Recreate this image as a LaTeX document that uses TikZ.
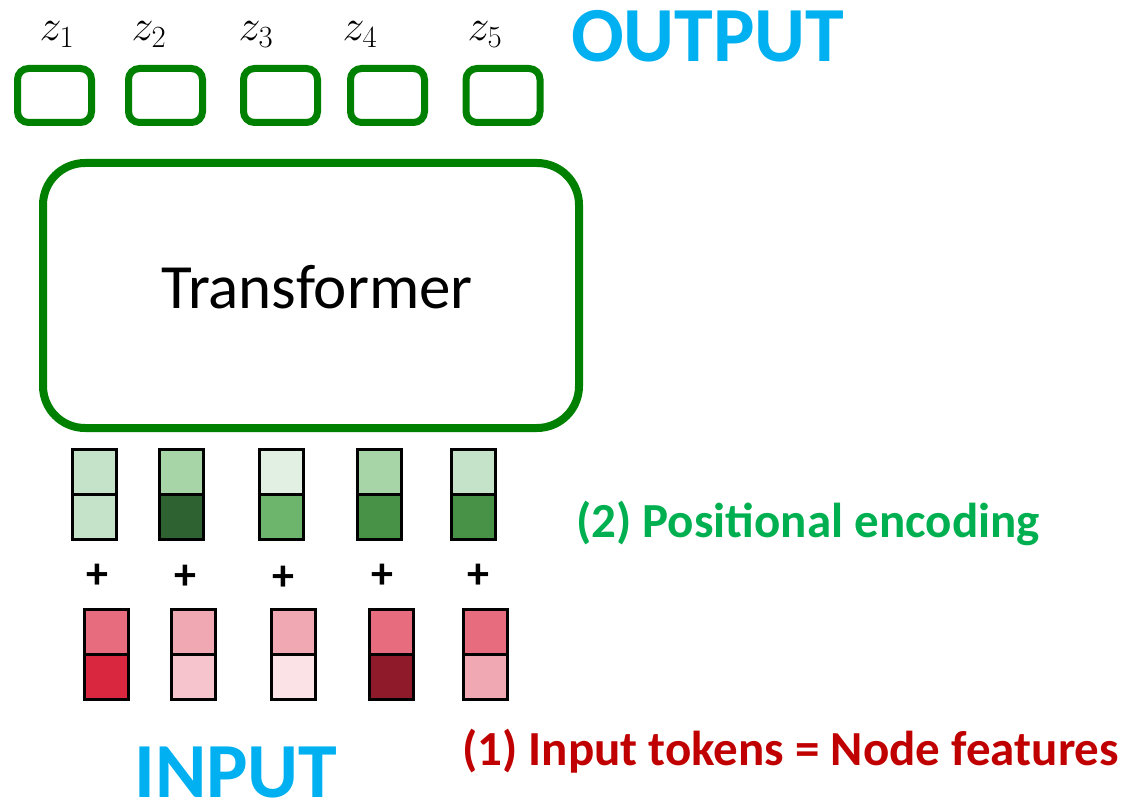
\RequirePackage{fix-cm}
\documentclass[tikz,border=0pt]{standalone}
\usepackage{fontspec}
\setmainfont{Carlito}
\definecolor{boxgreen}{RGB}{0,128,0}
\definecolor{cyanout}{RGB}{0,176,240}
\definecolor{posgreen}{RGB}{0,176,80}
\definecolor{tokred}{RGB}{192,0,0}
\definecolor{gA}{HTML}{C5E3C8}
\definecolor{gB}{HTML}{A8D5A8}
\definecolor{gC}{HTML}{2E6331}
\definecolor{gD}{HTML}{E1F0E2}
\definecolor{gE}{HTML}{6DB56D}
\definecolor{gF}{HTML}{489247}
\definecolor{rA}{HTML}{E66C7E}
\definecolor{rB}{HTML}{D9273F}
\definecolor{rC}{HTML}{F0A8B2}
\definecolor{rD}{HTML}{F5C4CC}
\definecolor{rE}{HTML}{FAE2E6}
\definecolor{rF}{HTML}{8F1A2A}
\begin{document}
\begin{tikzpicture}[x=1pt,y=-1pt,
  outbox/.style={draw=boxgreen,line width=7pt,rounded corners=11pt,minimum width=74pt,minimum height=54pt,inner sep=0pt},
  cell/.style={draw=black,line width=3pt,minimum width=44pt,minimum height=45pt,inner sep=0pt},
  zlab/.style={font=\fontsize{44}{50}\selectfont,anchor=base,inner sep=0pt},
  plussign/.style={font=\bfseries\fontsize{44}{48}\selectfont,inner sep=0pt},
  bigtitle/.style={font=\bfseries\fontsize{78}{90}\selectfont,text=cyanout,anchor=base west,inner sep=0pt,text depth=0pt},
  caption/.style={font=\bfseries\fontsize{49}{56}\selectfont,anchor=base west,inner sep=0pt}]
\useasboundingbox (0,0) rectangle (1139,805);
% output boxes
\node[outbox] (o1) at (54.5,95.5) {};
\node[outbox] (o2) at (165.5,95.5) {};
\node[outbox] (o3) at (280.5,95.5) {};
\node[outbox] (o4) at (387.5,95.5) {};
\node[outbox] (o5) at (503,95.5) {};
% z labels
\node[zlab] (z1) at (57,41) {$z_1$};
\node[zlab] (z2) at (149,41) {$z_2$};
\node[zlab] (z3) at (256,41) {$z_3$};
\node[zlab] (z4) at (360,41) {$z_4$};
\node[zlab] (z5) at (485,41) {$z_5$};
\node[bigtitle] (outlabel) at (571,62) {OUTPUT};
% transformer
\draw[boxgreen,line width=8pt,rounded corners=42pt] (43,163) rectangle (579,428);
\node[font=\fontsize{63}{70}\selectfont,anchor=base,inner sep=0pt] (tr) at (317,308) {Transformer};
% positional encoding columns
\node[cell,fill=gA] (p1t) at (94,471.5) {};
\node[cell,fill=gA] (p1b) at (94,516.5) {};
\node[cell,fill=gB] (p2t) at (181.5,471.5) {};
\node[cell,fill=gC] (p2b) at (181.5,516.5) {};
\node[cell,fill=gD] (p3t) at (281,471.5) {};
\node[cell,fill=gE] (p3b) at (281,516.5) {};
\node[cell,fill=gB] (p4t) at (379.5,471.5) {};
\node[cell,fill=gF] (p4b) at (379.5,516.5) {};
\node[cell,fill=gA] (p5t) at (473,471.5) {};
\node[cell,fill=gF] (p5b) at (473,516.5) {};
% plus signs
\node[plussign] (s1) at (97,576) {+};
\node[plussign] (s2) at (185,577) {+};
\node[plussign] (s3) at (283,578) {+};
\node[plussign] (s4) at (382,576) {+};
\node[plussign] (s5) at (478,576) {+};
% input token columns
\node[cell,fill=rA] (t1t) at (106,631.5) {};
\node[cell,fill=rB] (t1b) at (106,676.5) {};
\node[cell,fill=rC] (t2t) at (193,631.5) {};
\node[cell,fill=rD] (t2b) at (193,676.5) {};
\node[cell,fill=rC] (t3t) at (293,631.5) {};
\node[cell,fill=rE] (t3b) at (293,676.5) {};
\node[cell,fill=rA] (t4t) at (391,631.5) {};
\node[cell,fill=rF] (t4b) at (391,676.5) {};
\node[cell,fill=rA] (t5t) at (485,631.5) {};
\node[cell,fill=rC] (t5b) at (485,676.5) {};
% captions
\node[caption,text=posgreen] (pe) at (576,537) {(2) Positional encoding};
\node[caption,text=tokred] (it) at (462,765) {(1) Input tokens = Node features};
\node[bigtitle] (inlabel) at (134,797) {INPUT};
\end{tikzpicture}
\end{document}
